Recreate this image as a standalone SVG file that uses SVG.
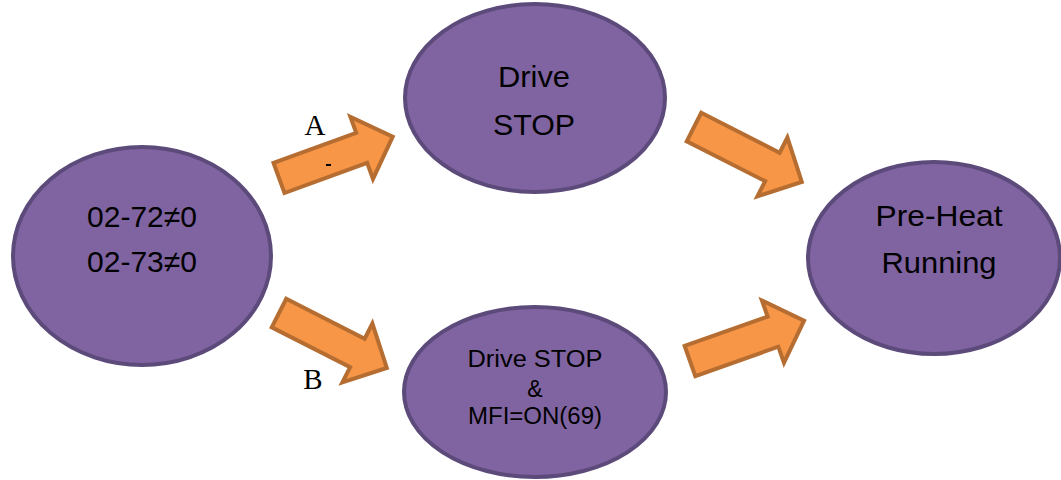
<svg xmlns="http://www.w3.org/2000/svg" width="1061" height="480" viewBox="0 0 1061 480">
<defs>
<style>
.node{fill:#8064a2;stroke:#5c4a7a;stroke-width:4}
.arr{fill:#f79646;stroke:#b66d31;stroke-width:4;stroke-linejoin:miter}
.t{font-family:"Liberation Sans",Arial,sans-serif;fill:#000;text-anchor:middle}
.lbl{font-family:"Liberation Serif","Times New Roman",serif;font-size:29px;fill:#000;text-anchor:middle}
</style>
<polygon id="blk" class="arr" points="0,-16 88,-16 88,-33 121,0 88,33 88,16 0,16"/>
</defs>
<rect width="1061" height="480" fill="#fff"/>
<g id="connectors">
<use href="#blk" transform="translate(279,178) rotate(-20)"/>
<use href="#blk" transform="translate(279,313) rotate(27)"/>
<use href="#blk" transform="translate(694,127) rotate(27)"/>
<use href="#blk" transform="translate(690,361) rotate(-19.5)"/>
<rect x="326" y="164" width="5" height="2" fill="#000"/>
<text class="lbl" x="315" y="135">A</text>
<text class="lbl" x="313" y="389">B</text>
</g>
<g id="node-start">
<ellipse class="node" cx="142" cy="256" rx="129" ry="109"/>
<text class="t" font-size="30" x="142" y="227">02-72≠0</text>
<text class="t" font-size="30" x="142" y="272">02-73≠0</text>
</g>
<g id="node-drive-stop">
<ellipse class="node" cx="535" cy="98" rx="130" ry="94"/>
<text class="t" font-size="30" x="534" y="87" textLength="72" lengthAdjust="spacingAndGlyphs">Drive</text>
<text class="t" font-size="30" x="534" y="135" textLength="82" lengthAdjust="spacingAndGlyphs">STOP</text>
</g>
<g id="node-drive-stop-mfi">
<ellipse class="node" cx="535" cy="392" rx="131" ry="85"/>
<text class="t" font-size="23" x="535" y="367" textLength="135" lengthAdjust="spacingAndGlyphs">Drive STOP</text>
<text class="t" font-size="23" x="535" y="397">&amp;</text>
<text class="t" font-size="23" x="535" y="424" textLength="134" lengthAdjust="spacingAndGlyphs">MFI=ON(69)</text>
</g>
<g id="node-preheat">
<ellipse class="node" cx="934" cy="258" rx="126" ry="96"/>
<text class="t" font-size="30" x="939" y="226" textLength="127" lengthAdjust="spacingAndGlyphs">Pre-Heat</text>
<text class="t" font-size="30" x="939" y="273" textLength="115" lengthAdjust="spacingAndGlyphs">Running</text>
</g>
</svg>
